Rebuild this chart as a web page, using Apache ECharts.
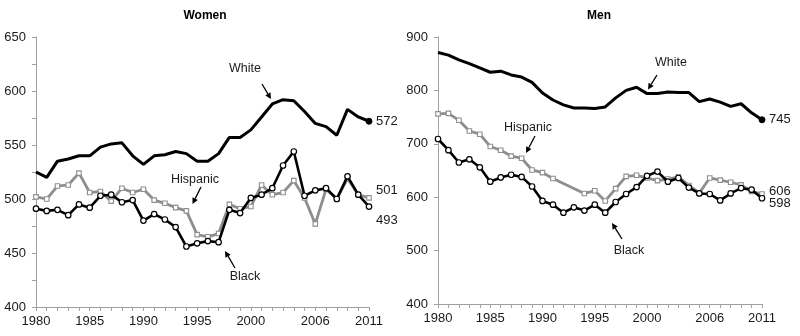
<!DOCTYPE html>
<html>
<head>
<meta charset="utf-8">
<script src="https://cdn.jsdelivr.net/npm/echarts@6/dist/echarts.min.js"></script>
<style>
  html, body { margin: 0; padding: 0; background: #fff; }
  #chart { width: 800px; height: 336px; }
</style>
</head>
<body>
<div id="chart"></div>
<script>
const years = ['1980','1981','1982','1983','1984','1985','1986','1987','1988','1989',
  '1990','1991','1992','1993','1994','1995','1996','1997','1998','1999',
  '2000','2001','2002','2003','2004','2005','2006','2007','2008','2009','2010','2011'];
const shownYears = ['1980','1985','1990','1995','2000','2006','2011'];

const womenWhite = [525,520,535,537,540,540,548,551,552,540,532,540,541,544,542,535,535,542,557,557,564,576,588,592,591,581,570,567,559,583,576,572];
const womenBlack = [491,489,490,485,495,492,503,504,497,499,480,486,481,474,456,459,461,460,490,487,501,504,510,531,544,503,508,510,500,521,504,493];
const womenHispanic = [502,500,512,513,524,506,507,498,510,506,509,499,496,492,489,467,465,468,495,491,493,513,504,506,517,501,477,509,500,519,504,501];

const menWhite = [871,866,857,850,842,834,836,829,825,815,795,782,773,767,767,766,769,786,800,806,794,794,797,796,796,779,784,778,770,775,758,745];
const menBlack = [709,688,665,671,656,629,637,642,638,620,593,586,571,581,575,586,571,591,606,619,640,648,629,636,618,607,606,594,607,617,614,598];
const menHispanic = [756,757,744,724,718,695,688,677,673,651,646,635,null,null,607,612,593,616,639,641,636,631,634,638,622,608,636,632,628,623,611,606];

const FONT = '"Liberation Sans", Arial, sans-serif';
const TXT = '#1a1a1a';
const AXIS = '#a0a0a0';
const GREY = '#8e8e8e';

const chart = echarts.init(document.getElementById('chart'), null, { renderer: 'canvas' });

function xAxis(gridIndex) {
  return {
    type: 'category', gridIndex, data: years, boundaryGap: false,
    axisLine: { lineStyle: { color: AXIS, width: 1 } },
    axisTick: { show: true, interval: 0, length: 4, inside: false, lineStyle: { color: AXIS } },
    axisLabel: {
      interval: (i, v) => shownYears.includes(v),
      color: TXT, fontFamily: FONT, fontSize: 13, margin: 8
    },
    splitLine: { show: false }
  };
}

function yAxis(gridIndex, min, max, interval, minor) {
  return {
    type: 'value', gridIndex, min, max, interval,
    axisLine: { show: true, lineStyle: { color: AXIS, width: 1 } },
    axisTick: { show: true, length: 4, lineStyle: { color: AXIS } },
    minorTick: { show: minor, splitNumber: 2, length: 4, lineStyle: { color: AXIS } },
    axisLabel: { color: TXT, fontFamily: FONT, fontSize: 13, margin: 10 },
    splitLine: { show: false }
  };
}

// only the last point of the White lines carries a (filled) dot
function endDot(arr) {
  return arr.map((v, i) => i === arr.length - 1
    ? { value: v, symbol: 'circle', symbolSize: 6, itemStyle: { color: '#000', borderColor: '#000' } }
    : v);
}

function endLabel(offsetY) {
  return {
    show: true, formatter: p => String(p.value), distance: 7,
    offset: [0, offsetY], color: TXT, fontFamily: FONT, fontSize: 13
  };
}

function whiteSeries(idx, data, off) {
  return {
    type: 'line', xAxisIndex: idx, yAxisIndex: idx, data: endDot(data),
    symbol: 'none', showSymbol: true,
    lineStyle: { color: '#000', width: 3 }, itemStyle: { color: '#000' },
    endLabel: endLabel(off), z: 4, animation: false
  };
}
function blackSeries(idx, data, off) {
  return {
    type: 'line', xAxisIndex: idx, yAxisIndex: idx, data,
    symbol: 'circle', symbolSize: 5.5, showSymbol: true,
    lineStyle: { color: '#000', width: 2.6 },
    itemStyle: { color: '#fff', borderColor: '#000', borderWidth: 1.2 },
    endLabel: endLabel(off), z: 3, animation: false
  };
}
function hispSeries(idx, data, off) {
  return {
    type: 'line', xAxisIndex: idx, yAxisIndex: idx, data, connectNulls: true,
    symbol: 'rect', symbolSize: 4.5, showSymbol: true,
    lineStyle: { color: GREY, width: 2.8 },
    itemStyle: { color: '#fff', borderColor: GREY, borderWidth: 1.1 },
    endLabel: endLabel(off), z: 2, animation: false
  };
}

function arrow(x1, y1, x2, y2) {
  const a = Math.atan2(y2 - y1, x2 - x1);
  const L = 6, W = 3;
  const bx = x2 - L * Math.cos(a), by = y2 - L * Math.sin(a);
  const px = -Math.sin(a) * W, py = Math.cos(a) * W;
  return [
    { type: 'line', shape: { x1, y1, x2: bx, y2: by }, style: { stroke: '#000', lineWidth: 1.3 } },
    { type: 'polygon', shape: { points: [[x2, y2], [bx + px, by + py], [bx - px, by - py]] }, style: { fill: '#000' } }
  ];
}
function label(text, x, y) {
  return { type: 'text', x, y, style: { text, fill: TXT, font: '12.5px ' + FONT, align: 'center', verticalAlign: 'middle' } };
}

const graphics = [
  label('White', 245, 69), ...arrow(262, 84, 271, 99),
  label('Hispanic', 195, 180), ...arrow(201, 187, 192.5, 204),
  label('Black', 245, 277), ...arrow(235, 268, 225, 251),
  label('White', 671, 63), ...arrow(657, 75, 648, 89.5),
  label('Hispanic', 528, 128), ...arrow(535, 136, 526, 153),
  label('Black', 629, 251), ...arrow(622, 239, 612, 223)
];

chart.setOption({
  animation: false,
  title: [
    { text: 'Women', left: 200, top: 5, textAlign: 'center', textStyle: { fontFamily: FONT, fontSize: 12, fontWeight: 'bold', color: '#000' } },
    { text: 'Men', left: 594, top: 5, textAlign: 'center', textStyle: { fontFamily: FONT, fontSize: 12, fontWeight: 'bold', color: '#000' } }
  ],
  grid: [
    { left: 36, top: 37, width: 333, height: 270 },
    { left: 438, top: 37, width: 324, height: 267 }
  ],
  xAxis: [xAxis(0), xAxis(1)],
  yAxis: [yAxis(0, 400, 650, 50, true), yAxis(1, 400, 900, 100, false)],
  series: [
    hispSeries(0, womenHispanic, -7),
    blackSeries(0, womenBlack, 14),
    whiteSeries(0, womenWhite, 0),
    hispSeries(1, menHispanic, -3),
    blackSeries(1, menBlack, 5),
    whiteSeries(1, menWhite, 0)
  ],
  graphic: graphics
});
</script>
</body>
</html>
